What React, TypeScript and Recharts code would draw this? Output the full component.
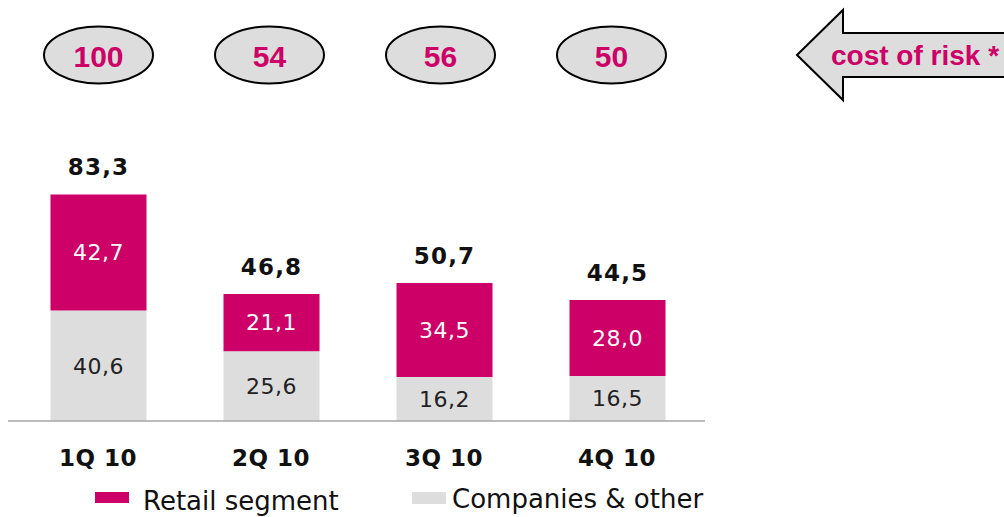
import React from 'react';
import { BarChart, Bar, XAxis, YAxis, LabelList, Customized } from 'recharts';

const categories = ['1Q 10', '2Q 10', '3Q 10', '4Q 10'];
const retailSegment = [42.7, 21.1, 34.5, 28.0];
const companiesOther = [40.6, 25.6, 16.2, 16.5];
const totals = [83.3, 46.8, 50.7, 44.5];
const costOfRisk = [100, 54, 56, 50];

const MAGENTA = '#CC0066';
const GREY = '#DDDDDD';
const FONT = '"DejaVu Sans", Verdana, sans-serif';
const ANNOT_FONT = '"Liberation Sans", Arial, sans-serif';

const fmt = (v: number) => v.toFixed(1).replace('.', ',');

const data = categories.map((name, i) => ({
  name,
  retail: retailSegment[i],
  companies: companiesOther[i],
}));

// x-axis labels, bold and a little spaced
const QuarterTick = ({ x, y, payload }: any) => (
  <text
    x={x}
    y={y + 37}
    textAnchor="middle"
    dominantBaseline="central"
    fontFamily={FONT}
    fontWeight="bold"
    fontSize={23}
    letterSpacing={0.5}
    fill="#111"
  >
    {payload.value}
  </text>
);

// total above the stack + cost of risk ellipse at the top
const TopLabel = ({ x, y, width, index }: any) => {
  const cx = x + width / 2;
  // the ellipses sit on a slightly tighter pitch than the bars
  const ex = cx - 2 * index;
  return (
    <g>
      <text
        x={cx}
        y={y - 27}
        textAnchor="middle"
        dominantBaseline="central"
        fontFamily={FONT}
        fontWeight="bold"
        fontSize={23}
        letterSpacing={1.2}
        fill="#111"
      >
        {fmt(totals[index])}
      </text>
      <ellipse cx={ex} cy={55} rx={54.5} ry={28.5} fill={GREY} stroke="#000" strokeWidth={2} />
      <text
        x={ex}
        y={56}
        textAnchor="middle"
        dominantBaseline="central"
        fontFamily={ANNOT_FONT}
        fontWeight="bold"
        fontSize={30}
        fill={MAGENTA}
      >
        {costOfRisk[index]}
      </text>
    </g>
  );
};

const Decorations = () => (
  <g>
    {/* arrow pointing at the cost of risk row */}
    <polygon
      points="797,55 843,10 843,33 1010,33 1010,77 843,77 843,100"
      fill={GREY}
      stroke="#000"
      strokeWidth={2}
    />
    <text
      x={831}
      y={65}
      fontFamily={ANNOT_FONT}
      fontWeight="bold"
      fontSize={28}
      fill={MAGENTA}
    >
      cost of risk *
    </text>

    {/* legend */}
    <rect x={95} y={492} width={34} height={11} fill={MAGENTA} />
    <text x={143} y={510} fontFamily={FONT} fontSize={26} fill="#111">
      Retail segment
    </text>
    <rect x={412} y={492} width={34} height={12} fill={GREY} />
    <text x={452} y={508} fontFamily={FONT} fontSize={26} fill="#111">
      Companies &amp; other
    </text>
  </g>
);

export default function App() {
  return (
    <div style={{ position: 'absolute', left: 0, top: 0, background: '#fff' }}>
      <BarChart
        width={1004}
        height={517}
        data={data}
        margin={{ top: 149, right: 299, bottom: 56, left: 8 }}
      >
        <XAxis
          dataKey="name"
          height={40}
          axisLine={{ stroke: '#A6A6A6', strokeWidth: 1.5 }}
          tickLine={false}
          tickSize={0}
          tickMargin={0}
          tick={<QuarterTick />}
          padding={{ left: 3.5, right: 1.5 }}
          interval={0}
        />
        <YAxis hide domain={[0, 100]} />
        <Bar dataKey="companies" stackId="a" fill={GREY} barSize={96} isAnimationActive={false}>
          <LabelList
            dataKey="companies"
            position="center"
            formatter={(v: any) => fmt(v as number)}
            fill="#222"
            fontFamily={FONT}
            fontSize={22}
            letterSpacing={0.5}
          />
        </Bar>
        <Bar dataKey="retail" stackId="a" fill={MAGENTA} barSize={96} isAnimationActive={false}>
          <LabelList
            dataKey="retail"
            position="center"
            formatter={(v: any) => fmt(v as number)}
            fill="#fff"
            fontFamily={FONT}
            fontSize={22}
            letterSpacing={0.5}
          />
          <LabelList dataKey="retail" content={<TopLabel />} />
        </Bar>
        <Customized component={<Decorations />} />
      </BarChart>
    </div>
  );
}
